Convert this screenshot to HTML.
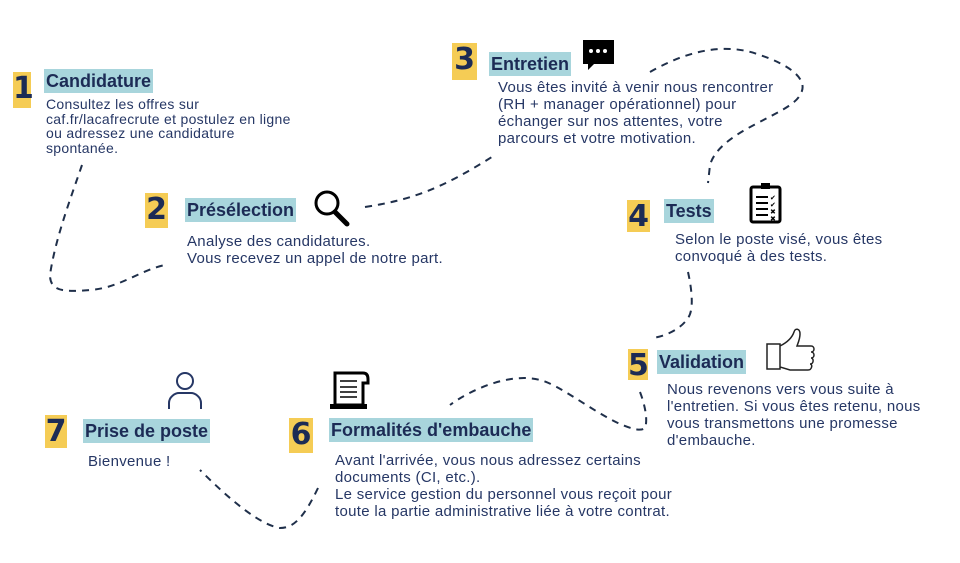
<!DOCTYPE html>
<html><head><meta charset="utf-8"><style>
body{margin:0;width:960px;height:563px;background:#fff;position:relative;overflow:hidden;font-family:"Liberation Sans",sans-serif;color:#263765}
.n{position:absolute;background:#f5cc55;color:#1c2b55;font-weight:bold;font-size:30px;text-align:center;font-family:"DejaVu Sans",sans-serif;line-height:34px}
.t{position:absolute;background:#a8d5dc;color:#1c2b55;font-weight:bold;font-size:18px;line-height:24px;padding:0 2px;white-space:nowrap}
.p{position:absolute;font-size:15px;letter-spacing:0.3px;line-height:17px;color:#263765;white-space:nowrap}
svg{position:absolute;left:0;top:0}
</style></head><body>
<svg width="960" height="563">
<g fill="none" stroke="#1f2f4a" stroke-width="2" stroke-dasharray="7,6">
<path d="M82,165 C70,200 55,240 50,275 C50,292 65,292 90,290 C120,288 140,270 165,265"/>
<path d="M365,207 C410,200 440,190 495,155"/>
<path d="M650,72 C680,55 720,40 760,55 C790,65 810,80 800,95 C790,115 720,130 710,165 L708,183"/>
<path d="M688,272 C692,290 694,310 688,318 C680,330 665,336 653,338"/>
<path d="M640,392 C645,405 648,420 645,428 C640,432 630,428 620,424 C590,410 560,385 540,380 C510,372 470,390 450,405"/>
<path d="M318,488 C305,515 295,528 280,528 C260,525 230,500 200,470"/>
</g>
<circle cx="327" cy="203" r="11" fill="none" stroke="#000" stroke-width="3"/>
<line x1="335" y1="212" x2="347" y2="224" stroke="#000" stroke-width="5" stroke-linecap="round"/>
<path d="M583,40 h31 v24 h-20 l-6,6 v-6 h-5 z" fill="#000"/>
<circle cx="591" cy="51" r="2" fill="#fff"/><circle cx="598" cy="51" r="2" fill="#fff"/><circle cx="605" cy="51" r="2" fill="#fff"/>
<rect x="751" y="187" width="29" height="35" rx="2" fill="none" stroke="#000" stroke-width="3"/>
<rect x="761" y="183" width="9" height="6" fill="#000"/>
<g stroke="#000" stroke-width="2"><line x1="756" y1="197" x2="768" y2="197"/><line x1="756" y1="203" x2="768" y2="203"/><line x1="756" y1="209" x2="768" y2="209"/><line x1="756" y1="215" x2="768" y2="215"/></g>
<text x="770" y="200" font-size="7" font-family="DejaVu Sans">✔</text><text x="770" y="207" font-size="7" font-family="DejaVu Sans">✔</text><text x="770" y="214" font-size="7" font-family="DejaVu Sans">✖</text><text x="770" y="221" font-size="7" font-family="DejaVu Sans">✖</text>
<path d="M767,344 h13 v25 h-13 z M780,346 c6,-3 12,-8 14,-14 c1,-4 6,-4 6,2 c0,5 -2,9 -3,12 h14 c4,0 4,6 0,6 c4,0 4,6 0,6 c3,0 3,6 -1,6 c3,0 2,6 -2,6 h-18 l-10,-3 z" fill="#fff" stroke="#222" stroke-width="1.5"/>
<path d="M335,373 h28 c4,0 5,3 5,6 v4 h-5 v22 h-28 z" fill="none" stroke="#000" stroke-width="3"/>
<rect x="330" y="404" width="37" height="5" fill="#000"/>
<g stroke="#000" stroke-width="1.6"><line x1="340" y1="381" x2="357" y2="381"/><line x1="340" y1="387" x2="357" y2="387"/><line x1="340" y1="392" x2="357" y2="392"/><line x1="340" y1="397" x2="357" y2="397"/></g>
<circle cx="185" cy="381" r="8" fill="none" stroke="#263765" stroke-width="2"/>
<path d="M169,409 v-6 c0,-6 6,-10 10,-10 h12 c4,0 10,4 10,10 v6" fill="none" stroke="#263765" stroke-width="2"/>
</svg>

<div class="n" style="left:13px;top:72px;width:18px;height:36px">1</div>
<div class="t" style="left:44px;top:69px">Candidature</div>
<div class="p" style="left:46px;top:97px;line-height:14.5px;font-size:14px">Consultez les offres sur<br>caf.fr/lacafrecrute et postulez en ligne<br>ou adressez une candidature<br>spontanée.</div>

<div class="n" style="left:145px;top:193px;width:23px;height:35px">2</div>
<div class="t" style="left:185px;top:198px">Présélection</div>
<div class="p" style="left:187px;top:233px">Analyse des candidatures.<br>Vous recevez un appel de notre part.</div>

<div class="n" style="left:452px;top:43px;width:25px;height:37px">3</div>
<div class="t" style="left:489px;top:52px">Entretien</div>
<div class="p" style="left:498px;top:79px">Vous êtes invité à venir nous rencontrer<br>(RH + manager opérationnel) pour<br>échanger sur nos attentes, votre<br>parcours et votre motivation.</div>

<div class="n" style="left:627px;top:200px;width:23px;height:32px">4</div>
<div class="t" style="left:664px;top:199px">Tests</div>
<div class="p" style="left:675px;top:231px">Selon le poste visé, vous êtes<br>convoqué à des tests.</div>

<div class="n" style="left:628px;top:349px;width:20px;height:31px">5</div>
<div class="t" style="left:657px;top:350px">Validation</div>
<div class="p" style="left:667px;top:381px">Nous revenons vers vous suite à<br>l'entretien. Si vous êtes retenu, nous<br>vous transmettons une promesse<br>d'embauche.</div>

<div class="n" style="left:289px;top:418px;width:24px;height:35px">6</div>
<div class="t" style="left:329px;top:418px">Formalités d'embauche</div>
<div class="p" style="left:335px;top:452px">Avant l'arrivée, vous nous adressez certains<br>documents (CI, etc.).<br>Le service gestion du personnel vous reçoit pour<br>toute la partie administrative liée à votre contrat.</div>

<div class="n" style="left:45px;top:415px;width:22px;height:33px">7</div>
<div class="t" style="left:83px;top:419px">Prise de poste</div>
<div class="p" style="left:88px;top:453px">Bienvenue !</div>
</body></html>
